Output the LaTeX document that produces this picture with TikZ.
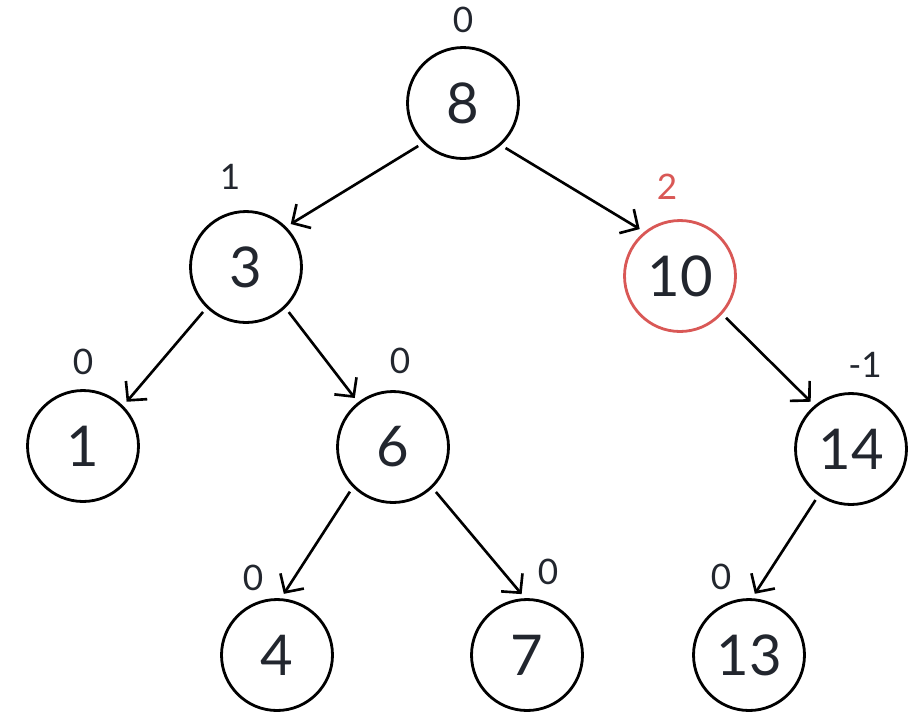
\documentclass[tikz,border=0pt]{standalone}
\usepackage{fontspec}
\setmainfont{Lato}
\usepackage{tikz}
\usetikzlibrary{arrows.meta}
\definecolor{ink}{RGB}{34,38,46}
\definecolor{hot}{RGB}{217,88,86}

\begin{document}
\begin{tikzpicture}[x=0.02cm,y=-0.02cm,
  every node/.style={text=ink},
  avl/.style={draw=black,circle,line width=1.6pt,minimum size=2.22cm,
    inner sep=0pt,font=\fontsize{32}{34}\selectfont},
  bal/.style={font=\fontsize{20}{22}\selectfont},
  link/.style={-{Straight Barb[length=2.7mm,width=5.6mm]},line width=1.5pt,
    shorten <=3pt,shorten >=3pt}]
\useasboundingbox (0,0) rectangle (919,718);
% nodes
\node[avl] (n8) at (463,103) {8};
\node[avl] (n3) at (246,267) {3};
\node[avl,draw=hot] (n10) at (680,276) {10};
\node[avl] (n1) at (83,446) {1};
\node[avl] (n6) at (393,447) {6};
\node[avl] (n14) at (851,449) {14};
\node[avl] (n4) at (277,655) {4};
\node[avl] (n7) at (527,655) {7};
\node[avl] (n13) at (749,655) {13};
% balance factors
\node[bal] (b8) at (463,20) {0};
\node[bal] (b3) at (230,177) {1};
\node[bal,text=hot] (b10) at (667,187) {2};
\node[bal] (b1) at (83,362) {0};
\node[bal] (b6) at (400,361) {0};
\node[bal] (b14) at (865,365) {-1};
\node[bal] (b4) at (253,578) {0};
\node[bal] (b7) at (548,572) {0};
\node[bal] (b13) at (721,577) {0};
% edges
\draw[link] (n8.225) -- (n3.45);
\draw[link] (n8.312) -- (n10.129);
\draw[link] (n3.226) -- (n1.45);
\draw[link] (n3.314) -- (n6.128);
\draw[link] (n10.318) -- (n14.130);
\draw[link] (n6.225) -- (n4.86);
\draw[link] (n6.314) -- (n7.92);
\draw[link] (n14.235) -- (n13.87);
\end{tikzpicture}
\end{document}
